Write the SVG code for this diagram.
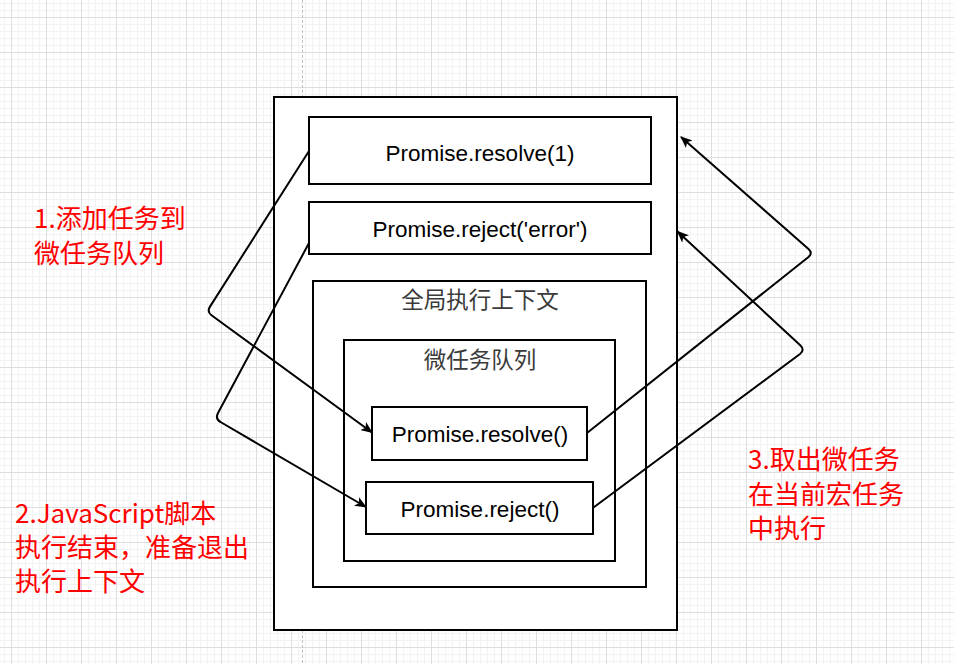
<svg xmlns="http://www.w3.org/2000/svg" width="954" height="664" viewBox="0 0 954 664">
<defs>
<pattern id="minor" patternUnits="userSpaceOnUse" x="11" y="17" width="7" height="7">
<path d="M0.5,0 V7 M0,0.5 H7" stroke="#f3f3f3" stroke-width="1" fill="none"/>
</pattern>
<pattern id="major" patternUnits="userSpaceOnUse" x="11" y="17" width="35" height="35">
<path d="M0.5,0 V35 M0,0.5 H35" stroke="#dedede" stroke-width="1" fill="none"/>
</pattern>
<marker id="arrow" viewBox="0 0 12 10" refX="11" refY="5" markerWidth="12" markerHeight="10" markerUnits="userSpaceOnUse" orient="auto">
<path d="M0,0 L12,5 L0,10 L3,5 Z" fill="#000"/>
</marker>
</defs>
<style>
.box{fill:#fff;stroke:#000;stroke-width:2}
.code{font-family:"Liberation Sans",Arial,sans-serif;font-size:22.5px;fill:#000;text-anchor:middle}
.cjk{font-family:"Noto Sans CJK SC","Noto Sans",sans-serif;font-size:22.5px;fill:#3a3a3a;text-anchor:middle}
.note{font-family:"Noto Sans CJK SC","Noto Sans",sans-serif;font-size:26px;fill:#ff0000}
.conn{fill:none;stroke:#000;stroke-width:2;marker-end:url(#arrow)}
</style>
<rect width="954" height="664" fill="#fff"/>
<rect width="954" height="664" fill="url(#minor)"/>
<rect width="954" height="664" fill="url(#major)"/>
<line x1="302.5" y1="0" x2="302.5" y2="664" stroke="#c2c2c2" stroke-width="1" stroke-dasharray="3 2"/>

<g id="outer"><rect class="box" x="274" y="97" width="403" height="533"/></g>
<g id="resolve1"><rect class="box" x="309" y="117" width="342" height="67"/><text class="code" x="480" y="161">Promise.resolve(1)</text></g>
<g id="rejectError"><rect class="box" x="309" y="202" width="342" height="52"/><text class="code" x="480" y="236.5">Promise.reject('error')</text></g>
<g id="globalContext"><rect class="box" x="313" y="281" width="333" height="306"/><text class="cjk" x="480" y="308">全局执行上下文</text></g>
<g id="microQueue"><rect class="box" x="344" y="340" width="271" height="221"/><text class="cjk" x="480" y="368">微任务队列</text></g>
<g id="resolveMicro"><rect class="box" x="372" y="407" width="215" height="53"/><text class="code" x="480" y="442">Promise.resolve()</text></g>
<g id="rejectMicro"><rect class="box" x="366" y="482" width="227" height="52"/><text class="code" x="480" y="517">Promise.reject()</text></g>

<g id="connectors">
<path class="conn" d="M309,151 L210,306.6 Q206.7,311.7 211.5,315.3 L372,432.5"/>
<path class="conn" d="M309,243 L218,413 Q215,419 220.5,422 L366,507"/>
<path class="conn" d="M587,433 L808.5,257 Q813,253 808.5,249 L681,137"/>
<path class="conn" d="M593.5,507.5 L800,354 Q805,350 800.5,345.5 L677.5,231.5"/>
</g>

<g id="note1"><text class="note" x="34" y="228">1.添加任务到</text><text class="note" x="34" y="263">微任务队列</text></g>
<g id="note2"><text class="note" x="15" y="523">2.JavaScript脚本</text><text class="note" x="15" y="557">执行结束，准备退出</text><text class="note" x="15" y="591">执行上下文</text></g>
<g id="note3"><text class="note" x="748" y="469">3.取出微任务</text><text class="note" x="748" y="503.5">在当前宏任务</text><text class="note" x="748" y="538">中执行</text></g>
</svg>
